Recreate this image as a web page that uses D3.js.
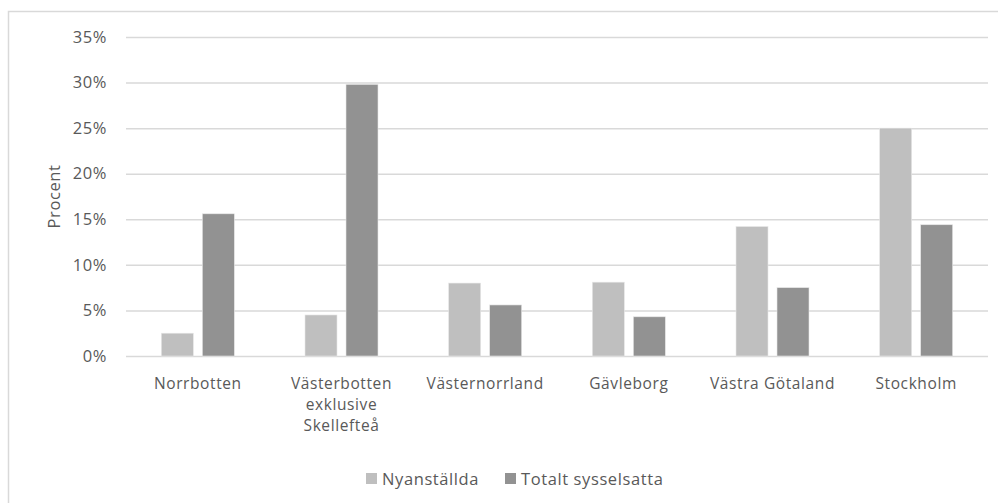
<!DOCTYPE html>
<html>
<head>
<meta charset="utf-8">
<script src="https://cdn.jsdelivr.net/npm/d3@7"></script>
<style>
  html, body { margin: 0; padding: 0; background: #fff; }
  svg { display: block; }
  text { font-family: "Open Sans", "Noto Sans", sans-serif; fill: #595959; letter-spacing: 0.6px; }
</style>
</head>
<body>
<svg id="chart" width="998" height="503"></svg>
<script>
// Andel (%) per region
const categories = [
  ["Norrbotten"],
  ["Västerbotten", "exklusive", "Skellefteå"],
  ["Västernorrland"],
  ["Gävleborg"],
  ["Västra Götaland"],
  ["Stockholm"]
];
const seriesNames = ["Nyanställda", "Totalt sysselsatta"];
const nyanstallda = [2.5, 4.5, 8.0, 8.1, 14.2, 25.0];
const totaltSysselsatta = [15.6, 29.8, 5.6, 4.3, 7.5, 14.4];
const yTicks = [0, 5, 10, 15, 20, 25, 30, 35];
const colors = ["#bfbfbf", "#929292"];

const FS = 16.5;
const svg = d3.select("#chart");
const margin = { left: 126, right: 10, top: 37, bottom: 147 };
const W = 998, H = 503;
const plotRight = W - margin.right;
const plotBottom = H - margin.bottom;

// Outer chart frame
svg.append("rect")
  .attr("x", 8.5).attr("y", 11.5)
  .attr("width", 1000).attr("height", 600)
  .attr("fill", "none").attr("stroke", "#d9d9d9").attr("stroke-width", 1.5);

const keys = categories.map(c => c.join(" "));
const x0 = d3.scaleBand().domain(keys).range([margin.left, plotRight]).paddingInner(0).paddingOuter(0);
const groupW = 73;
const x1 = d3.scaleBand().domain(seriesNames)
  .range([(x0.bandwidth() - groupW) / 2, (x0.bandwidth() + groupW) / 2])
  .paddingInner(0.22).paddingOuter(0);
const y = d3.scaleLinear().domain([0, 35]).range([plotBottom, margin.top]);

// Gridlines and value labels
const yAxis = d3.axisLeft(y).tickValues(yTicks).tickSize(-(plotRight - margin.left)).tickFormat(d => d + "%").tickPadding(19);
const gy = svg.append("g").attr("transform", `translate(${margin.left},0)`).call(yAxis);
gy.select(".domain").remove();
gy.selectAll(".tick line").attr("stroke", "#d9d9d9").attr("stroke-width", 1.5);
gy.selectAll(".tick text").attr("font-size", FS).attr("fill", "#595959")
  .attr("font-family", "'Open Sans', sans-serif");

// Bars
const rows = keys.map((k, i) => ({ key: k, values: [nyanstallda[i], totaltSysselsatta[i]] }));
const groups = svg.append("g").selectAll("g").data(rows).join("g")
  .attr("transform", d => `translate(${x0(d.key)},0)`);
groups.selectAll("rect")
  .data(d => d.values.map((v, j) => ({ name: seriesNames[j], v, j })))
  .join("rect")
  .attr("x", d => x1(d.name))
  .attr("width", x1.bandwidth())
  .attr("y", d => y(d.v))
  .attr("height", d => y(0) - y(d.v))
  .attr("fill", d => colors[d.j])
  .attr("stroke", "#e6e6e6").attr("stroke-width", 0.6);

// Category labels (one text per line)
const labelData = [];
categories.forEach((lines, i) => lines.forEach((t, k) => labelData.push({ t, i, k })));
svg.append("g").selectAll("text").data(labelData).join("text")
  .attr("text-anchor", "middle")
  .attr("font-size", 15.5)
  .attr("letter-spacing", 0.9)
  .attr("x", d => x0(keys[d.i]) + x0.bandwidth() / 2)
  .attr("y", d => 389 + d.k * 21.2)
  .text(d => d.t);

// Y-axis title
svg.append("text")
  .attr("transform", `translate(60,${(margin.top + plotBottom) / 2}) rotate(-90)`)
  .attr("text-anchor", "middle")
  .attr("font-size", FS)
  .text("Procent");

// Legend
const legendItems = [
  { name: seriesNames[0], x: 366, color: colors[0] },
  { name: seriesNames[1], x: 505, color: colors[1] }
];
const lg = svg.append("g").selectAll("g").data(legendItems).join("g")
  .attr("transform", d => `translate(${d.x},473)`);
lg.append("rect").attr("width", 11).attr("height", 11).attr("fill", d => d.color);
lg.append("text").attr("x", 16).attr("y", 11.5).attr("font-size", FS).text(d => d.name);
</script>
</body>
</html>
